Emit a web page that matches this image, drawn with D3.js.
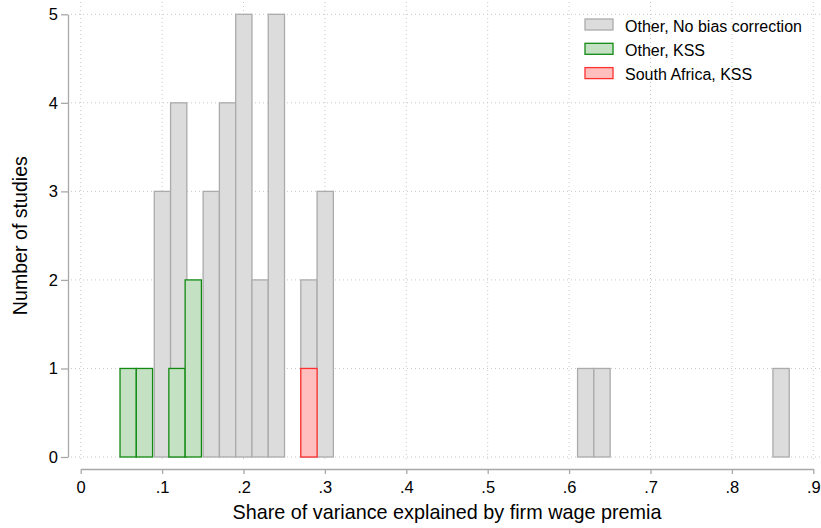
<!DOCTYPE html>
<html lang="en">
<head>
<meta charset="UTF-8" />
<title>Share of variance explained by firm wage premia</title>
<script src="https://d3js.org/d3.v7.min.js"></script>
<style>
  body {
    margin: 0;
    background: #fff;
    overflow: hidden;
  }
  svg {
    display: block;
    font-family: "Liberation Sans", Arial, sans-serif;
  }
  .grid line {
    stroke: #c8c8c8;
    stroke-width: 1px;
    stroke-dasharray: 1,3;
  }
  .axis path, .axis line {
    stroke: #a8a8a8;
    stroke-width: 1.3px;
  }
  .axis text {
    fill: #000;
    font-size: 16.5px;
  }
</style>
</head>
<body>

<svg width="821" height="528"></svg>

<script>
  const width = 821, height = 528;

  // bin width of the histograms
  const binWidth = 0.02;

  // Other, No bias correction
  const greyStarts = [0.0904, 0.1104, 0.1504, 0.1704, 0.1904, 0.2104, 0.2304, 0.2704, 0.2904, 0.6104, 0.6304, 0.8504];
  const greyCounts = [3, 4, 3, 4, 5, 2, 5, 2, 3, 1, 1, 1];

  // Other, KSS
  const greenStarts = [0.0483, 0.0683, 0.1083, 0.1283];
  const greenCounts = [1, 1, 1, 2];

  // South Africa, KSS
  const redStarts = [0.2704];
  const redCounts = [1];

  const xTicks = [0, 0.1, 0.2, 0.3, 0.4, 0.5, 0.6, 0.7, 0.8, 0.9];
  const yTicks = [0, 1, 2, 3, 4, 5];

  const legendLabels = ["Other, No bias correction", "Other, KSS", "South Africa, KSS"];

  const series = [
    { starts: greyStarts, counts: greyCounts, fill: "#dcdcdc", stroke: "#ababab" },
    { starts: greenStarts, counts: greenCounts, fill: "#c4e1c4", stroke: "#128a12" },
    { starts: redStarts, counts: redCounts, fill: "#ffbfbf", stroke: "#ff3030" }
  ];

  const x = d3.scaleLinear().domain([0, 0.9]).range([80.7, 813.3]);
  const y = d3.scaleLinear().domain([0, 5]).range([457, 14.3]);

  const svg = d3.select("svg");

  // gridlines
  const grid = svg.append("g").attr("class", "grid");
  grid.selectAll("line.v")
    .data(xTicks)
    .join("line")
    .attr("class", "v")
    .attr("x1", d => x(d)).attr("x2", d => x(d))
    .attr("y1", 2).attr("y2", 461);
  grid.selectAll("line.h")
    .data(yTicks)
    .join("line")
    .attr("class", "h")
    .attr("x1", 71).attr("x2", width)
    .attr("y1", d => y(d)).attr("y2", d => y(d));

  // bars, grey first, colored ones on top
  series.forEach(s => {
    svg.append("g")
      .selectAll("rect")
      .data(s.starts.map((d, i) => ({ x0: d, n: s.counts[i] })))
      .join("rect")
      .attr("x", d => x(d.x0))
      .attr("width", d => x(d.x0 + binWidth) - x(d.x0))
      .attr("y", d => y(d.n))
      .attr("height", d => y(0) - y(d.n))
      .attr("fill", s.fill)
      .attr("stroke", s.stroke)
      .attr("stroke-width", 1.3);
  });

  // axes
  const fmt = d => d === 0 ? "0" : d3.format(".1f")(d).replace(/^0/, "");

  svg.append("g")
    .attr("class", "axis")
    .attr("transform", "translate(0,469)")
    .call(d3.axisBottom(x).tickValues(xTicks).tickFormat(fmt).tickSize(5).tickSizeOuter(0).tickPadding(7));

  svg.append("g")
    .attr("class", "axis")
    .attr("transform", "translate(68,0)")
    .call(d3.axisLeft(y).tickValues(yTicks).tickFormat(d3.format("d")).tickSize(7).tickSizeOuter(0).tickPadding(3));

  svg.selectAll(".axis text").style("font-family", "'Liberation Sans', Arial, sans-serif");

  // axis titles
  svg.append("text")
    .attr("x", (x(0) + x(0.9)) / 2)
    .attr("y", 519)
    .attr("text-anchor", "middle")
    .attr("font-size", 19.8)
    .text("Share of variance explained by firm wage premia");

  svg.append("text")
    .attr("transform", "translate(27," + ((y(0) + y(5)) / 2) + ") rotate(-90)")
    .attr("text-anchor", "middle")
    .attr("font-size", 19.6)
    .text("Number of studies");

  // legend
  const legend = svg.append("g").attr("transform", "translate(585,19)");
  legendLabels.forEach((label, i) => {
    const g = legend.append("g").attr("transform", "translate(0," + (i * 24.3) + ")");
    g.append("rect")
      .attr("width", 28).attr("height", 11)
      .attr("fill", series[i].fill)
      .attr("stroke", series[i].stroke)
      .attr("stroke-width", 1.3);
    g.append("text")
      .attr("x", 40).attr("y", 12.5)
      .attr("font-size", 16)
      .text(label);
  });
</script>

</body>
</html>
